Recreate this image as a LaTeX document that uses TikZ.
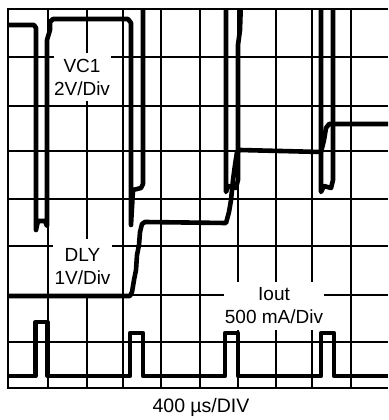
\documentclass[tikz,border=0pt]{standalone}
\usepackage{fontspec}
\setmainfont{Liberation Sans}
\begin{document}
\begin{tikzpicture}[x=1pt,y=-1pt,
  gridline/.style={line width=1.4pt,black},
  frameline/.style={line width=2.2pt,black},
  trace/.style={line width=4.6pt,black,line join=round},
  lbl/.style={fill=white,inner sep=0pt,align=center,font=\fontsize{19}{23}\selectfont},
  axislbl/.style={inner sep=0pt,font=\fontsize{19.5}{23}\selectfont}]
\useasboundingbox (0,0) rectangle (388,420);
% grid
\foreach \x in {48,87,123,161,200,238,276,312,351} \draw[gridline] (\x,9) -- (\x,388);
\foreach \y in {57,106,151,199,246,295,342} \draw[gridline] (8,\y) -- (388,\y);
\draw[frameline] (388,9) -- (8,9) -- (8,388) -- (388,388);
% labels with white backgrounds
\node[lbl,minimum width=57pt,minimum height=48pt] (vc1) at (82,77) {VC1\\2V/Div};
\node[lbl,minimum width=59pt,minimum height=56pt] (dly) at (82.5,267) {DLY\\1V/Div};
\node[lbl,minimum width=100pt,minimum height=48pt] (iout) at (274,306) {Iout\\500 mA/Div};
% traces
\begin{scope}
\clip (8,9) rectangle (388,388);
% VC1
\draw[trace] (8,25) -- (34,25) -- (36,28) -- (36,230) -- (38,221) -- (45,221) -- (47,226) -- (47,40) -- (50,30) -- (50,22) -- (53,19) -- (128,19) -- (131,23) -- (131,225) -- (133,190) -- (141,188) -- (143,184) -- (143,0);
\draw[trace] (226,0) -- (226,192) -- (228,186) -- (236,188) -- (238,180) -- (238,45) -- (240,30) -- (241,0);
\draw[trace] (321,0) -- (321,192) -- (324,186) -- (331,188) -- (333,180) -- (333,0);
% DLY
\draw[trace] (8,296) -- (130,296) -- (132,292) -- (134,280) -- (136,270) -- (137,255) -- (139,245) -- (140,232) -- (142,224) -- (145,222) -- (226,223) -- (229,212) -- (231,200) -- (233,180) -- (235,165) -- (237,152) -- (240,150) -- (321,152) -- (324,140) -- (326,128) -- (329,124) -- (388,124);
% Iout
\draw[trace] (8,376) -- (35.5,376) -- (35.5,322) -- (47.5,322) -- (47.5,376) -- (130,376) -- (130,333) -- (143,333) -- (143,376) -- (225,376) -- (225,333) -- (238,333) -- (238,376) -- (321,376) -- (321,333) -- (334,333) -- (334,376) -- (388,376);
\end{scope}
\node[axislbl] (xlbl) at (201,407) {400 µs/DIV};
\end{tikzpicture}
\end{document}
